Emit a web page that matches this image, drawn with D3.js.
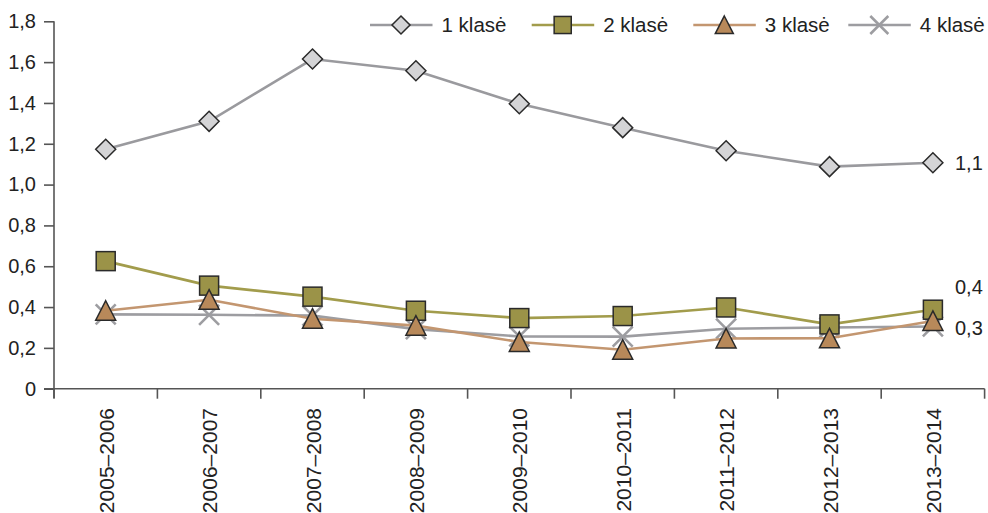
<!DOCTYPE html>
<html><head><meta charset="utf-8">
<script src="https://cdn.jsdelivr.net/npm/d3@7"></script>
<style>
html,body{margin:0;padding:0;background:#fff;}
svg{display:block;font-family:"Liberation Sans",Arial,sans-serif;}
</style></head>
<body><svg id="c" width="988" height="513"></svg>
<script>
const categories = ["2005–2006","2006–2007","2007–2008","2008–2009","2009–2010","2010–2011","2011–2012","2012–2013","2013–2014"];
const klase1 = [1.173, 1.31, 1.615, 1.558, 1.396, 1.279, 1.166, 1.088, 1.107];
const klase2 = [0.625, 0.505, 0.451, 0.382, 0.346, 0.356, 0.398, 0.315, 0.387];
const klase3 = [0.382, 0.436, 0.343, 0.309, 0.229, 0.191, 0.246, 0.247, 0.332];
const klase4 = [0.364, 0.362, 0.358, 0.292, 0.256, 0.255, 0.294, 0.300, 0.305];
const seriesNames = ["1 klasė","2 klasė","3 klasė","4 klasė"];
const yTicks = [0,0.2,0.4,0.6,0.8,1.0,1.2,1.4,1.6,1.8];
const endLabels = ["1,1","0,4","0,3"];

const svg = d3.select("#c");
const x = d3.scaleBand().domain(categories).range([54, 984.6]);
const y = d3.scaleLinear().domain([0,1.8]).range([388.7, 21.3]);
const fmt = v => v===0 ? "0" : d3.format(".1f")(v).replace(".", ",");
const axisColor = "#555";
const FS = 20;

// y axis
const ya = svg.append("g").attr("transform","translate(54,0)")
  .call(d3.axisLeft(y).tickValues(yTicks).tickFormat(fmt).tickSize(10).tickPadding(8));
ya.select(".domain").remove();
ya.append("line").attr("x1",0).attr("x2",0).attr("y1",y(1.8)).attr("y2",398).attr("stroke",axisColor).attr("stroke-width",1.6);
ya.selectAll(".tick line").attr("stroke",axisColor).attr("stroke-width",1.6);
ya.selectAll(".tick text").attr("fill","#222").style("font-size",FS+"px").style("font-family","Liberation Sans, Arial, sans-serif");

// x axis
const xa = svg.append("g").attr("transform",`translate(0,${y(0)})`)
  .call(d3.axisBottom(x).tickSize(0).tickFormat(""));
xa.select(".domain").remove();
xa.append("line").attr("x1",44).attr("x2",984.6).attr("y1",0).attr("y2",0).attr("stroke",axisColor).attr("stroke-width",1.6);
const bounds = categories.map((c,i)=>x(c)).concat([x.range()[1]]);
xa.selectAll(".bt").data(bounds).enter().append("line")
  .attr("x1",d=>d).attr("x2",d=>d).attr("y1",0).attr("y2",10).attr("stroke",axisColor).attr("stroke-width",1.6);
svg.append("g").selectAll("text").data(categories).enter().append("text")
  .attr("transform",d=>`translate(${x(d)+x.bandwidth()/2+8},408) rotate(-90)`)
  .attr("text-anchor","end").attr("fill","#222").style("font-size","21px").text(d=>d);

const cx = c => x(c)+x.bandwidth()/2;
const series = [
  {name:seriesNames[0], vals:klase1, line:"#9a9a9e", fill:"#d4d4d6", marker:"diamond"},
  {name:seriesNames[1], vals:klase2, line:"#a29c4c", fill:"#9b9348", marker:"square"},
  {name:seriesNames[2], vals:klase3, line:"#c39670", fill:"#b8895a", marker:"triangle"},
  {name:seriesNames[3], vals:klase4, line:"#9d9da1", fill:"none", marker:"x"}
];

function drawMarker(g, type, s, s_col, fillc) {
  const h = s/2;
  if (type==="diamond") {
    g.append("path").attr("d",`M0,${-h}L${h},0L0,${h}L${-h},0Z`).attr("fill",fillc).attr("stroke","#2a2a2a").attr("stroke-width",1.5);
  } else if (type==="square") {
    const a = h*0.95;
    g.append("rect").attr("x",-a).attr("y",-a).attr("width",2*a).attr("height",2*a).attr("fill",fillc).attr("stroke","#2a2a2a").attr("stroke-width",1.5);
  } else if (type==="triangle") {
    g.append("path").attr("d",`M0,${-h}L${h},${h*0.95}L${-h},${h*0.95}Z`).attr("fill",fillc).attr("stroke","#2a2a2a").attr("stroke-width",1.5);
  } else {
    g.append("path").attr("d",`M${-h},${-h}L${h},${h}M${h},${-h}L${-h},${h}`).attr("stroke",s_col).attr("stroke-width",2.6).attr("fill","none");
  }
}

const line = d3.line().x((d,i)=>cx(categories[i])).y(d=>y(d));
const order = [3,1,2,0];
order.forEach(k=>{
  const s = series[k];
  const g = svg.append("g");
  g.append("path").datum(s.vals).attr("d",line).attr("fill","none").attr("stroke",s.line).attr("stroke-width",2.6);
  s.vals.forEach((v,i)=>{
    const mg = g.append("g").attr("transform",`translate(${cx(categories[i])},${y(v)})`);
    drawMarker(mg, s.marker, 20, s.line, s.fill);
  });
});

// end labels
const last = categories.length-1;
const endY = [y(klase1[last]), 286.7, 328];
svg.append("g").selectAll("text").data(endLabels).enter().append("text")
  .attr("x",955).attr("y",(d,i)=>endY[i]).attr("dy","0.35em").attr("fill","#222").style("font-size",FS+"px").text(d=>d);

// legend
const legX = [370, 531.7, 693.3, 848.3];
const lg = svg.append("g");
series.forEach((s,i)=>{
  const g = lg.append("g").attr("transform",`translate(${legX[i]},25)`);
  g.append("line").attr("x1",0).attr("x2",62.5).attr("y1",0).attr("y2",0).attr("stroke",s.line).attr("stroke-width",2.6);
  const mg = g.append("g").attr("transform","translate(31,0)");
  drawMarker(mg, s.marker, 18, s.line, s.fill);
  g.append("text").attr("x",71.5).attr("y",0).attr("dy","0.35em").attr("fill","#222").style("font-size","20.5px").text(s.name);
});
</script></body></html>
